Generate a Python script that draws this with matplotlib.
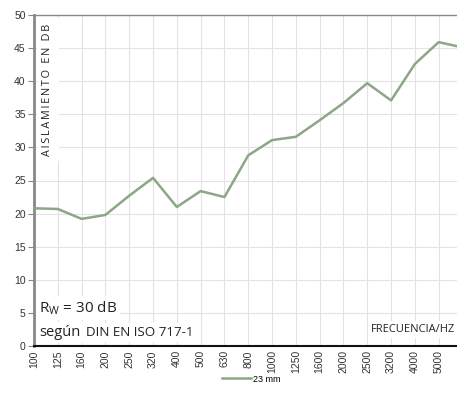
import matplotlib.pyplot as plt

freqs = ["100", "125", "160", "200", "250", "320", "400", "500", "630", "800",
         "1000", "1250", "1600", "2000", "2500", "3200", "4000", "5000", "6300"]
insulation = [20.8, 20.7, 19.2, 19.8, 22.7, 25.4, 21.0, 23.4, 22.5, 28.8,
              31.1, 31.6, 34.1, 36.7, 39.7, 37.1, 42.6, 45.9, 45.1]
y_ticks = [0, 5, 10, 15, 20, 25, 30, 35, 40, 45, 50]
series_name = "23 mm"

txt_font = ["Open Sans", "DejaVu Sans"]
tick_font = "Liberation Sans"
green = "#8da688"

fig = plt.figure(figsize=(4.57, 4.01), dpi=100)
ax = fig.add_axes([34 / 457, 55 / 401, 423 / 457, 331 / 401])

x = list(range(len(freqs)))
ax.plot(x, insulation, color=green, lw=1.8, label=series_name, zorder=3)

ax.set_xlim(0, 17.77)
ax.set_ylim(0, 50)
ax.set_xticks(x[:-1])
ax.set_xticklabels(freqs[:-1], rotation=90, fontsize=7.5, family=tick_font, color="#333333")
ax.set_yticks(y_ticks)
ax.set_yticklabels([str(v) for v in y_ticks], fontsize=7.5, family=tick_font, color="#333333")
ax.tick_params(axis="x", length=0, pad=3)
ax.tick_params(axis="y", length=4, width=0.8, color="#888888", pad=2)

ax.grid(True, color="#e3e3e3", lw=0.8)
ax.set_axisbelow(True)

ax.spines["right"].set_visible(False)
ax.spines["left"].set_color("#888888")
ax.spines["left"].set_linewidth(2)
ax.spines["top"].set_color("#888888")
ax.spines["top"].set_linewidth(1)
ax.spines["bottom"].set_color("#111111")
ax.spines["bottom"].set_linewidth(1.5)

box = dict(facecolor="white", edgecolor="none", pad=2)
# letter-spaced caps label inside the plot
ax.text(0.033, 0.975, "\u2009".join("AISLAMIENTO EN DB"), transform=ax.transAxes, rotation=90,
        ha="center", va="top", fontsize=7.8, family=txt_font, color="#222222", zorder=1,
        bbox=dict(facecolor="white", edgecolor="none", pad=4))
ax.text(0.012, 0.115, r"R$_\mathregular{W}$ = 30 dB", transform=ax.transAxes,
        ha="left", va="center", fontsize=11, family=txt_font, color="#222222",
        zorder=1, bbox=box)
ax.text(0.012, 0.04, "según", transform=ax.transAxes,
        ha="left", va="center", fontsize=10.5, family=txt_font, color="#222222",
        zorder=1, bbox=box)
ax.text(52 / 423, 0.04, "DIN EN ISO 717-1", transform=ax.transAxes,
        ha="left", va="center", fontsize=9.6, family=txt_font, color="#222222",
        zorder=1, bbox=box)
ax.text(0.995, 0.05, "FRECUENCIA/HZ", transform=ax.transAxes,
        ha="right", va="center", fontsize=8, family=txt_font, color="#222222",
        zorder=1, bbox=box)

fig.legend(loc="center", bbox_to_anchor=(251 / 457, 1 - 379 / 401), frameon=False,
           prop={"family": "Liberation Sans", "size": 6.5}, handlelength=3.2,
           handletextpad=0.2)

fig.savefig("out.png", dpi=100)
